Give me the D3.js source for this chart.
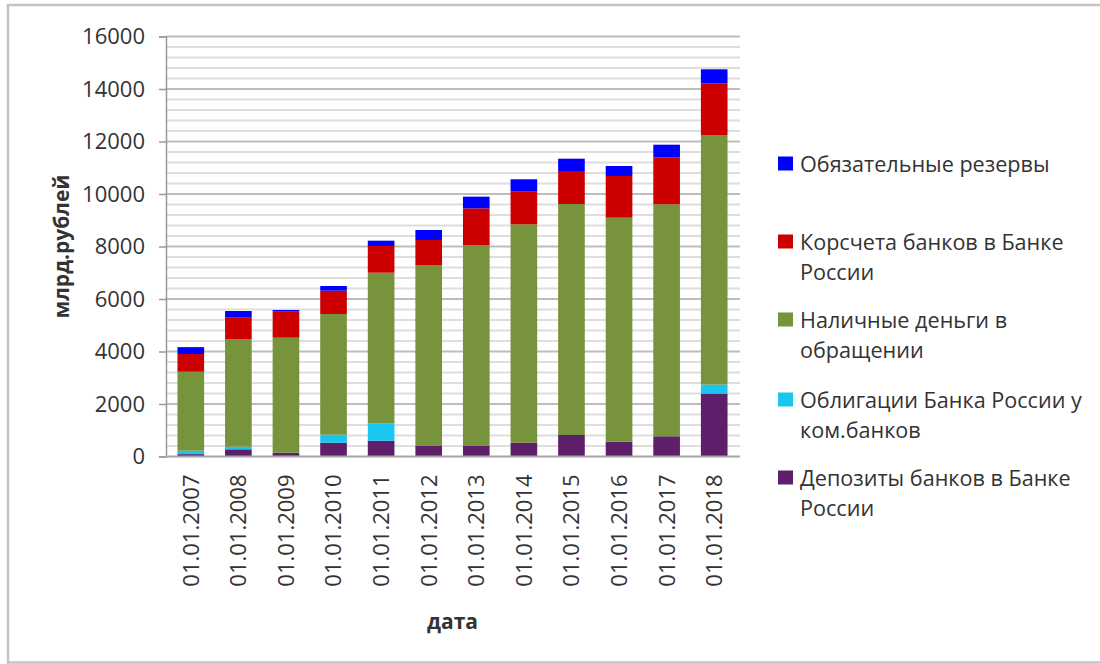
<!DOCTYPE html>
<html>
<head>
<meta charset="utf-8">
<script src="https://cdn.jsdelivr.net/npm/d3@7/dist/d3.min.js"></script>
<style>
  html, body { margin: 0; padding: 0; background: #fff; }
  svg { display: block; }
  text { font-family: "Open Sans", "Noto Sans", sans-serif; fill: #333; }
</style>
</head>
<body>
<svg id="chart" width="1100" height="664"></svg>
<script>
// Monetary base components, bn roubles, at the start of each year
const dates = ["01.01.2007","01.01.2008","01.01.2009","01.01.2010","01.01.2011","01.01.2012",
               "01.01.2013","01.01.2014","01.01.2015","01.01.2016","01.01.2017","01.01.2018"];

const deposits   = [90, 274, 145, 527, 603, 400, 400, 527, 819, 565, 770, 2400];   // Депозиты банков в Банке России
const bonds      = [130, 99, 0, 305, 661, 0, 0, 0, 0, 0, 0, 340];                   // Облигации Банка России у ком.банков
const cash       = [3009, 4103, 4381, 4597, 5739, 6895, 7657, 8319, 8800, 8532, 8836, 9508]; // Наличные деньги в обращении
const corrAcc    = [675, 812, 991, 888, 1016, 953, 1397, 1242, 1257, 1589, 1792, 1969];       // Корсчета банков в Банке России
const reserves   = [262, 255, 64, 178, 203, 381, 444, 472, 469, 381, 480, 533];               // Обязательные резервы

const yTicks = [0, 2000, 4000, 6000, 8000, 10000, 12000, 14000, 16000];

const seriesKeys   = ["deposits", "bonds", "cash", "corrAcc", "reserves"];
const seriesColors = ["#5d1f69", "#19c6f0", "#77933c", "#cc0000", "#0000ff"];
// legend entries, top to bottom, already split into lines
const legendLines = [
  ["Обязательные резервы"],
  ["Корсчета банков в Банке", "России"],
  ["Наличные деньги в", "обращении"],
  ["Облигации Банка России у", "ком.банков"],
  ["Депозиты банков в Банке", "России"]
];
const legendColors = ["#0000ff", "#cc0000", "#77933c", "#19c6f0", "#5d1f69"];

const yTitle = "млрд.рублей";
const xTitle = "дата";

const table = dates.map((d, i) => ({
  date: d, deposits: deposits[i], bonds: bonds[i], cash: cash[i],
  corrAcc: corrAcc[i], reserves: reserves[i]
}));

const svg = d3.select("#chart");

// outer frame
svg.append("rect")
  .attr("x", 8).attr("y", 5).attr("width", 1100).attr("height", 657.5)
  .attr("fill", "none").attr("stroke", "#c4c4c4").attr("stroke-width", 2.5);

const plotLeft = 167, plotRight = 738, plotTop = 36.5, plotBottom = 456.5;

const x = d3.scaleBand().domain(dates).range([plotLeft, plotRight])
  .paddingInner(0.44).paddingOuter(0.22);
const y = d3.scaleLinear().domain([0, 16000]).range([plotBottom, plotTop]);

// gridlines: minor every 400, major every 2000
const minor = d3.range(0, 16001, 400).filter(v => v % 2000 !== 0);
svg.append("g").selectAll("line").data(minor).join("line")
  .attr("x1", 166).attr("x2", 740)
  .attr("y1", d => y(d)).attr("y2", d => y(d))
  .attr("stroke", "#dedede").attr("stroke-width", 2);
svg.append("g").selectAll("line").data(yTicks.filter(v => v > 0)).join("line")
  .attr("x1", 166).attr("x2", 740)
  .attr("y1", d => y(d)).attr("y2", d => y(d))
  .attr("stroke", "#bdbdbd").attr("stroke-width", 2);

// y axis
const yAxis = svg.append("g").attr("transform", `translate(166,0)`)
  .call(d3.axisLeft(y).tickValues(yTicks).tickSize(7).tickPadding(14).tickFormat(d3.format("d")));
yAxis.select(".domain").attr("stroke", "#9a9a9a").attr("stroke-width", 1.5);
yAxis.selectAll(".tick line").attr("stroke", "#9a9a9a").attr("stroke-width", 1.5);
yAxis.selectAll(".tick text").attr("font-size", 22).attr("fill", "#333")
  .style("font-family", '"Open Sans", sans-serif');

// stacked bars
const stack = d3.stack().keys(seriesKeys)(table);
svg.append("g").selectAll("g").data(stack).join("g")
  .attr("fill", (d, i) => seriesColors[i])
  .selectAll("rect").data(d => d).join("rect")
  .attr("x", d => x(d.data.date))
  .attr("width", x.bandwidth())
  .attr("y", d => y(d[1]))
  .attr("height", d => y(d[0]) - y(d[1]));

// x axis
const xAxis = svg.append("g").attr("transform", `translate(0,${plotBottom})`)
  .call(d3.axisBottom(x).tickSize(0).tickPadding(0));
xAxis.select(".domain").attr("d", `M166,0H740`).attr("stroke", "#a6a6a6").attr("stroke-width", 2);
xAxis.selectAll(".tick text")
  .attr("transform", "translate(0,18) rotate(-90)")
  .attr("text-anchor", "end")
  .attr("dy", "0.36em").attr("dx", 0).attr("y", 0).attr("x", 0)
  .attr("font-size", 22).attr("fill", "#333")
  .style("font-family", '"Open Sans", sans-serif');

// axis titles
svg.append("text")
  .attr("transform", `translate(61,${(plotTop + plotBottom) / 2}) rotate(-90)`)
  .attr("text-anchor", "middle").attr("dy", "0.36em")
  .attr("font-size", 21).attr("font-weight", "bold").attr("fill", "#262626")
  .text(yTitle);
svg.append("text")
  .attr("x", (plotLeft + plotRight) / 2).attr("y", 621)
  .attr("text-anchor", "middle").attr("dy", "0.36em")
  .attr("font-size", 21).attr("font-weight", "bold").attr("fill", "#262626")
  .text(xTitle);

// legend
const legendTop = [164, 242, 320, 400, 478];
const lg = svg.append("g");
legendLines.forEach((lines, i) => {
  lg.append("rect").attr("x", 778).attr("y", legendTop[i] - 7.5)
    .attr("width", 15).attr("height", 14).attr("fill", legendColors[i]);
  lines.forEach((t, j) => {
    lg.append("text").attr("x", 800).attr("y", legendTop[i] + j * 30.5)
      .attr("dy", "0.36em").attr("font-size", 21.6).attr("fill", "#333")
      .text(t);
  });
});
</script>
</body>
</html>
